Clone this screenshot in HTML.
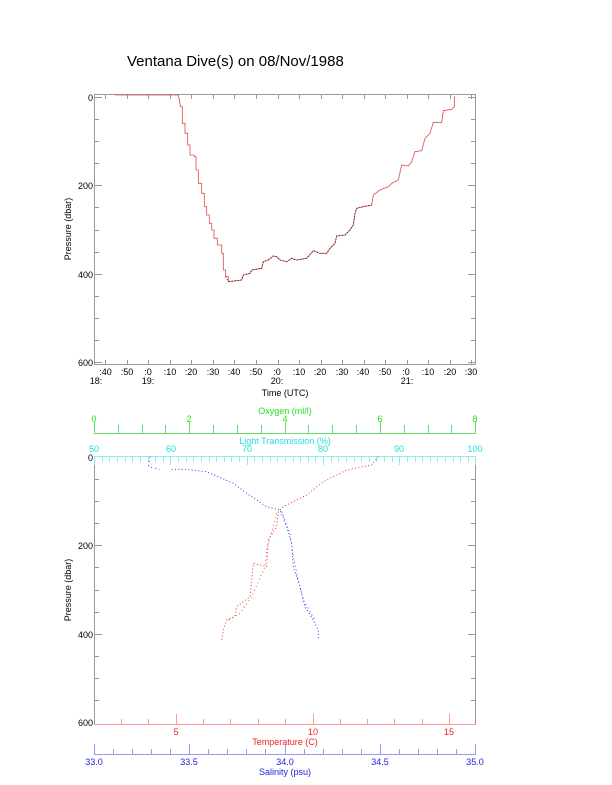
<!DOCTYPE html>
<html><head><style>
html,body{margin:0;padding:0;background:#fff;}
svg{display:block;font-family:"Liberation Sans",sans-serif;}
</style></head><body>
<svg width="612" height="785" viewBox="0 0 612 785" xmlns="http://www.w3.org/2000/svg">
<rect width="612" height="785" fill="#fff"/>
<text x="127" y="66" font-size="15">Ventana Dive(s) on 08/Nov/1988</text>

<!-- TOP PLOT -->
<rect x="94.5" y="94.5" width="381" height="270" fill="none" stroke="#999" stroke-width="1"/>
<g stroke="#999" stroke-width="1">
<line x1="94" y1="97.5" x2="102" y2="97.5"/><line x1="468" y1="97.5" x2="476" y2="97.5"/>
<line x1="94" y1="119.5" x2="99" y2="119.5"/><line x1="471" y1="119.5" x2="476" y2="119.5"/>
<line x1="94" y1="141.5" x2="99" y2="141.5"/><line x1="471" y1="141.5" x2="476" y2="141.5"/>
<line x1="94" y1="163.5" x2="99" y2="163.5"/><line x1="471" y1="163.5" x2="476" y2="163.5"/>
<line x1="94" y1="185.5" x2="102" y2="185.5"/><line x1="468" y1="185.5" x2="476" y2="185.5"/>
<line x1="94" y1="207.5" x2="99" y2="207.5"/><line x1="471" y1="207.5" x2="476" y2="207.5"/>
<line x1="94" y1="230.5" x2="99" y2="230.5"/><line x1="471" y1="230.5" x2="476" y2="230.5"/>
<line x1="94" y1="252.5" x2="99" y2="252.5"/><line x1="471" y1="252.5" x2="476" y2="252.5"/>
<line x1="94" y1="274.5" x2="102" y2="274.5"/><line x1="468" y1="274.5" x2="476" y2="274.5"/>
<line x1="94" y1="296.5" x2="99" y2="296.5"/><line x1="471" y1="296.5" x2="476" y2="296.5"/>
<line x1="94" y1="318.5" x2="99" y2="318.5"/><line x1="471" y1="318.5" x2="476" y2="318.5"/>
<line x1="94" y1="340.5" x2="99" y2="340.5"/><line x1="471" y1="340.5" x2="476" y2="340.5"/>
<line x1="94" y1="362.5" x2="102" y2="362.5"/><line x1="468" y1="362.5" x2="476" y2="362.5"/>
</g>
<g stroke="#999" stroke-width="1">
<line x1="105.5" y1="94" x2="105.5" y2="99"/><line x1="105.5" y1="360" x2="105.5" y2="365"/>
<line x1="127.5" y1="94" x2="127.5" y2="99"/><line x1="127.5" y1="360" x2="127.5" y2="365"/>
<line x1="148.5" y1="94" x2="148.5" y2="99"/><line x1="148.5" y1="360" x2="148.5" y2="365"/>
<line x1="170.5" y1="94" x2="170.5" y2="99"/><line x1="170.5" y1="360" x2="170.5" y2="365"/>
<line x1="191.5" y1="94" x2="191.5" y2="99"/><line x1="191.5" y1="360" x2="191.5" y2="365"/>
<line x1="213.5" y1="94" x2="213.5" y2="99"/><line x1="213.5" y1="360" x2="213.5" y2="365"/>
<line x1="234.5" y1="94" x2="234.5" y2="99"/><line x1="234.5" y1="360" x2="234.5" y2="365"/>
<line x1="256.5" y1="94" x2="256.5" y2="99"/><line x1="256.5" y1="360" x2="256.5" y2="365"/>
<line x1="278.5" y1="94" x2="278.5" y2="99"/><line x1="278.5" y1="360" x2="278.5" y2="365"/>
<line x1="299.5" y1="94" x2="299.5" y2="99"/><line x1="299.5" y1="360" x2="299.5" y2="365"/>
<line x1="321.5" y1="94" x2="321.5" y2="99"/><line x1="321.5" y1="360" x2="321.5" y2="365"/>
<line x1="342.5" y1="94" x2="342.5" y2="99"/><line x1="342.5" y1="360" x2="342.5" y2="365"/>
<line x1="364.5" y1="94" x2="364.5" y2="99"/><line x1="364.5" y1="360" x2="364.5" y2="365"/>
<line x1="385.5" y1="94" x2="385.5" y2="99"/><line x1="385.5" y1="360" x2="385.5" y2="365"/>
<line x1="407.5" y1="94" x2="407.5" y2="99"/><line x1="407.5" y1="360" x2="407.5" y2="365"/>
<line x1="428.5" y1="94" x2="428.5" y2="99"/><line x1="428.5" y1="360" x2="428.5" y2="365"/>
<line x1="450.5" y1="94" x2="450.5" y2="99"/><line x1="450.5" y1="360" x2="450.5" y2="365"/>
<line x1="471.5" y1="94" x2="471.5" y2="99"/><line x1="471.5" y1="360" x2="471.5" y2="365"/>
</g>
<g font-size="9" text-anchor="end">
<text x="93" y="101">0</text><text x="93" y="189">200</text><text x="93" y="278">400</text><text x="93" y="366">600</text>
</g>
<g font-size="9" text-anchor="middle">
<text x="105.5" y="375">:40</text><text x="127" y="375">:50</text><text x="148" y="375">:0</text><text x="170" y="375">:10</text>
<text x="191" y="375">:20</text><text x="213" y="375">:30</text><text x="234" y="375">:40</text><text x="256" y="375">:50</text>
<text x="277" y="375">:0</text><text x="299" y="375">:10</text><text x="320" y="375">:20</text><text x="342" y="375">:30</text>
<text x="363" y="375">:40</text><text x="385" y="375">:50</text><text x="406" y="375">:0</text><text x="428" y="375">:10</text>
<text x="450" y="375">:20</text><text x="471" y="375">:30</text>
<text x="96" y="384">18:</text><text x="148" y="384">19:</text><text x="277" y="384">20:</text><text x="407" y="384">21:</text>
<text x="285" y="396">Time (UTC)</text>
</g>
<text transform="translate(71,229) rotate(-90)" font-size="9" text-anchor="middle">Pressure (dbar)</text>
<g transform="translate(60,80) scale(0.33333)">
<polyline fill="none" stroke="#e05050" stroke-width="2.5" points="165,45 355,45 358,60 362,80 367,80 367,130 375,130 375,160 383,160 383,195 390,195 390,225 403,225 403,230 408,230 408,270 415,270 415,310 425,310 425,340 433,340 433,380 440,380 440,405 448,405 448,430 455,430 455,450 462,450 462,475 472,475 472,495 485,495 485,520 490,520 490,570 497,570 497,590 505,590 505,605 545,600 550,585 570,580 575,570 605,565 610,545 625,540 640,528 650,530 660,540 680,545 695,535 710,540 740,535 760,512 780,520 800,520 810,505 825,490 830,468 855,465 870,450 880,435 885,400 890,385 910,380 935,375 940,345 960,330 985,320 995,310 1015,300 1025,255 1045,258 1055,245 1065,215 1085,212 1095,175 1110,160 1120,127 1145,128 1150,92 1175,88 1183,80 1183,48"/>
<polyline fill="none" stroke="#222" stroke-width="3" stroke-dasharray="3 6" points="497,590 505,605 545,600 550,585 570,580 575,570 605,565 610,545 625,540 640,528 650,530 660,540 680,545 695,535 710,540 740,535 760,512 780,520 800,520 810,505 825,490 830,468 855,465 870,450 880,435 885,400 890,385 910,380 935,375"/>
</g>

<!-- BOTTOM PLOT -->
<rect x="94.5" y="456.5" width="381" height="268" fill="none" stroke="#999" stroke-width="1"/>
<g stroke="#999" stroke-width="1">
<line x1="94" y1="479.5" x2="99" y2="479.5"/><line x1="471" y1="479.5" x2="476" y2="479.5"/>
<line x1="94" y1="501.5" x2="99" y2="501.5"/><line x1="471" y1="501.5" x2="476" y2="501.5"/>
<line x1="94" y1="523.5" x2="99" y2="523.5"/><line x1="471" y1="523.5" x2="476" y2="523.5"/>
<line x1="94" y1="545.5" x2="102" y2="545.5"/><line x1="468" y1="545.5" x2="476" y2="545.5"/>
<line x1="94" y1="567.5" x2="99" y2="567.5"/><line x1="471" y1="567.5" x2="476" y2="567.5"/>
<line x1="94" y1="590.5" x2="99" y2="590.5"/><line x1="471" y1="590.5" x2="476" y2="590.5"/>
<line x1="94" y1="612.5" x2="99" y2="612.5"/><line x1="471" y1="612.5" x2="476" y2="612.5"/>
<line x1="94" y1="634.5" x2="102" y2="634.5"/><line x1="468" y1="634.5" x2="476" y2="634.5"/>
<line x1="94" y1="656.5" x2="99" y2="656.5"/><line x1="471" y1="656.5" x2="476" y2="656.5"/>
<line x1="94" y1="678.5" x2="99" y2="678.5"/><line x1="471" y1="678.5" x2="476" y2="678.5"/>
<line x1="94" y1="700.5" x2="99" y2="700.5"/><line x1="471" y1="700.5" x2="476" y2="700.5"/>
</g>
<g font-size="9" text-anchor="end">
<text x="93" y="461">0</text><text x="93" y="549">200</text><text x="93" y="638">400</text><text x="93" y="726">600</text>
</g>
<text transform="translate(71,590) rotate(-90)" font-size="9" text-anchor="middle">Pressure (dbar)</text>

<!-- Oxygen axis -->
<g stroke="#66dd66" stroke-width="1">
<line x1="94" y1="433.5" x2="476" y2="433.5"/>
<line x1="94.5" y1="422" x2="94.5" y2="434"/><line x1="118.5" y1="425" x2="118.5" y2="434"/><line x1="142.5" y1="425" x2="142.5" y2="434"/><line x1="165.5" y1="425" x2="165.5" y2="434"/>
<line x1="189.5" y1="422" x2="189.5" y2="434"/><line x1="213.5" y1="425" x2="213.5" y2="434"/><line x1="237.5" y1="425" x2="237.5" y2="434"/><line x1="261.5" y1="425" x2="261.5" y2="434"/>
<line x1="285.5" y1="422" x2="285.5" y2="434"/><line x1="308.5" y1="425" x2="308.5" y2="434"/><line x1="332.5" y1="425" x2="332.5" y2="434"/><line x1="356.5" y1="425" x2="356.5" y2="434"/>
<line x1="380.5" y1="422" x2="380.5" y2="434"/><line x1="404.5" y1="425" x2="404.5" y2="434"/><line x1="428.5" y1="425" x2="428.5" y2="434"/><line x1="451.5" y1="425" x2="451.5" y2="434"/>
<line x1="475.5" y1="422" x2="475.5" y2="434"/>
</g>
<g font-size="9" fill="#22dd22" text-anchor="middle">
<text x="94" y="422">0</text><text x="189" y="422">2</text><text x="285" y="422">4</text><text x="380" y="422">6</text><text x="475" y="422">8</text>
<text x="285" y="414">Oxygen (ml/l)</text>
</g>
<!-- Light transmission axis -->
<g stroke="#88eeee" stroke-width="1">
<line x1="94" y1="456.5" x2="476" y2="456.5"/>
<line x1="94.5" y1="456" x2="94.5" y2="465"/><line x1="102.5" y1="456" x2="102.5" y2="462"/><line x1="109.5" y1="456" x2="109.5" y2="462"/><line x1="117.5" y1="456" x2="117.5" y2="462"/><line x1="125.5" y1="456" x2="125.5" y2="462"/>
<line x1="132.5" y1="456" x2="132.5" y2="462"/><line x1="140.5" y1="456" x2="140.5" y2="462"/><line x1="148.5" y1="456" x2="148.5" y2="462"/><line x1="155.5" y1="456" x2="155.5" y2="462"/><line x1="163.5" y1="456" x2="163.5" y2="462"/>
<line x1="170.5" y1="456" x2="170.5" y2="465"/><line x1="178.5" y1="456" x2="178.5" y2="462"/><line x1="186.5" y1="456" x2="186.5" y2="462"/><line x1="193.5" y1="456" x2="193.5" y2="462"/><line x1="201.5" y1="456" x2="201.5" y2="462"/>
<line x1="209.5" y1="456" x2="209.5" y2="462"/><line x1="216.5" y1="456" x2="216.5" y2="462"/><line x1="224.5" y1="456" x2="224.5" y2="462"/><line x1="231.5" y1="456" x2="231.5" y2="462"/><line x1="239.5" y1="456" x2="239.5" y2="462"/>
<line x1="247.5" y1="456" x2="247.5" y2="465"/><line x1="254.5" y1="456" x2="254.5" y2="462"/><line x1="262.5" y1="456" x2="262.5" y2="462"/><line x1="270.5" y1="456" x2="270.5" y2="462"/><line x1="277.5" y1="456" x2="277.5" y2="462"/>
<line x1="285.5" y1="456" x2="285.5" y2="462"/><line x1="293.5" y1="456" x2="293.5" y2="462"/><line x1="300.5" y1="456" x2="300.5" y2="462"/><line x1="308.5" y1="456" x2="308.5" y2="462"/><line x1="315.5" y1="456" x2="315.5" y2="462"/>
<line x1="323.5" y1="456" x2="323.5" y2="465"/><line x1="331.5" y1="456" x2="331.5" y2="462"/><line x1="338.5" y1="456" x2="338.5" y2="462"/><line x1="346.5" y1="456" x2="346.5" y2="462"/><line x1="354.5" y1="456" x2="354.5" y2="462"/>
<line x1="361.5" y1="456" x2="361.5" y2="462"/><line x1="369.5" y1="456" x2="369.5" y2="462"/><line x1="376.5" y1="456" x2="376.5" y2="462"/><line x1="384.5" y1="456" x2="384.5" y2="462"/><line x1="392.5" y1="456" x2="392.5" y2="462"/>
<line x1="399.5" y1="456" x2="399.5" y2="465"/><line x1="407.5" y1="456" x2="407.5" y2="462"/><line x1="415.5" y1="456" x2="415.5" y2="462"/><line x1="422.5" y1="456" x2="422.5" y2="462"/><line x1="430.5" y1="456" x2="430.5" y2="462"/>
<line x1="437.5" y1="456" x2="437.5" y2="462"/><line x1="445.5" y1="456" x2="445.5" y2="462"/><line x1="453.5" y1="456" x2="453.5" y2="462"/><line x1="460.5" y1="456" x2="460.5" y2="462"/><line x1="468.5" y1="456" x2="468.5" y2="462"/>
<line x1="475.5" y1="456" x2="475.5" y2="465"/>
</g>
<g font-size="9" fill="#22dddd" text-anchor="middle">
<text x="94" y="452">50</text><text x="171" y="452">60</text><text x="247" y="452">70</text><text x="323" y="452">80</text><text x="399" y="452">90</text><text x="475" y="452">100</text>
<text x="285" y="444">Light Transmission (%)</text>
</g>
<!-- Temperature axis -->
<g stroke="#ff9999" stroke-width="1">
<line x1="94" y1="724.5" x2="476" y2="724.5"/>
<line x1="121.5" y1="719" x2="121.5" y2="725"/><line x1="148.5" y1="719" x2="148.5" y2="725"/><line x1="176.5" y1="714" x2="176.5" y2="725"/><line x1="203.5" y1="719" x2="203.5" y2="725"/>
<line x1="230.5" y1="719" x2="230.5" y2="725"/><line x1="258.5" y1="719" x2="258.5" y2="725"/><line x1="285.5" y1="719" x2="285.5" y2="725"/><line x1="313.5" y1="714" x2="313.5" y2="725"/>
<line x1="340.5" y1="719" x2="340.5" y2="725"/><line x1="367.5" y1="719" x2="367.5" y2="725"/><line x1="394.5" y1="719" x2="394.5" y2="725"/><line x1="422.5" y1="719" x2="422.5" y2="725"/>
<line x1="449.5" y1="714" x2="449.5" y2="725"/>
</g>
<g font-size="9" fill="#ee2222" text-anchor="middle">
<text x="176" y="735">5</text><text x="313" y="735">10</text><text x="449" y="735">15</text>
<text x="285" y="745">Temperature (C)</text>
</g>
<!-- Salinity axis -->
<g stroke="#9999ee" stroke-width="1">
<line x1="94" y1="754.5" x2="476" y2="754.5"/>
<line x1="94.5" y1="744" x2="94.5" y2="755"/><line x1="113.5" y1="749" x2="113.5" y2="755"/><line x1="132.5" y1="749" x2="132.5" y2="755"/><line x1="151.5" y1="749" x2="151.5" y2="755"/><line x1="170.5" y1="749" x2="170.5" y2="755"/>
<line x1="189.5" y1="744" x2="189.5" y2="755"/><line x1="208.5" y1="749" x2="208.5" y2="755"/><line x1="227.5" y1="749" x2="227.5" y2="755"/><line x1="246.5" y1="749" x2="246.5" y2="755"/><line x1="265.5" y1="749" x2="265.5" y2="755"/>
<line x1="285.5" y1="744" x2="285.5" y2="755"/><line x1="304.5" y1="749" x2="304.5" y2="755"/><line x1="323.5" y1="749" x2="323.5" y2="755"/><line x1="342.5" y1="749" x2="342.5" y2="755"/><line x1="361.5" y1="749" x2="361.5" y2="755"/>
<line x1="380.5" y1="744" x2="380.5" y2="755"/><line x1="399.5" y1="749" x2="399.5" y2="755"/><line x1="418.5" y1="749" x2="418.5" y2="755"/><line x1="437.5" y1="749" x2="437.5" y2="755"/><line x1="456.5" y1="749" x2="456.5" y2="755"/>
<line x1="475.5" y1="744" x2="475.5" y2="755"/>
</g>
<g font-size="9" fill="#2222dd" text-anchor="middle">
<text x="94" y="765">33.0</text><text x="189" y="765">33.5</text><text x="285" y="765">34.0</text><text x="380" y="765">34.5</text><text x="475" y="765">35.0</text>
<text x="285" y="775">Salinity (psu)</text>
</g>
<!-- data -->
<g transform="translate(60,400) scale(0.33333)" fill="none" stroke-width="3">
<polyline stroke="#ee3333" stroke-dasharray="3 7" points="955,170 935,195 860,210 790,245 740,285 670,320 655,335 650,380 625,420 620,500 580,490 570,590 530,620 525,650 500,660 490,690 485,720"/>
<polyline stroke="#ee5555" stroke-dasharray="3 9" points="650,340 640,380 622,440 615,500 575,590 540,640 505,660"/>
<polyline stroke="#3333ee" stroke-dasharray="3 10" points="270,170 265,200 300,208"/>
<polyline stroke="#3333ee" stroke-dasharray="3 7" points="335,208 375,208 440,215 520,250 560,280 620,320 660,330 680,380 695,430 700,500 720,560 735,620 760,660 775,690 775,720"/>
<polyline stroke="#5555ee" stroke-dasharray="3 9" points="665,335 690,400 700,470 715,540 730,600 765,660"/>
</g>
</svg>
</body></html>
